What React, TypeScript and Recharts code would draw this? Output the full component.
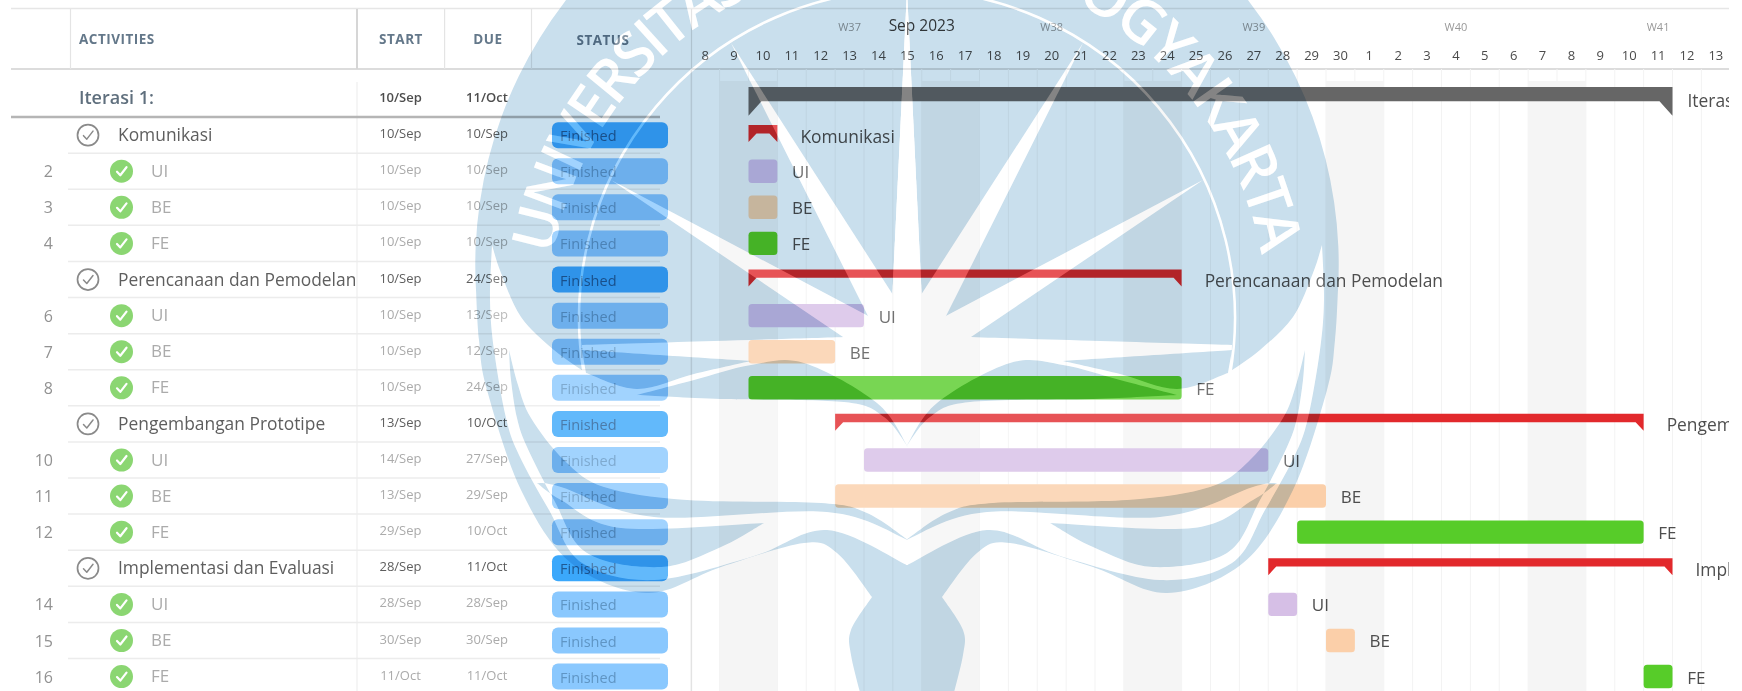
import React from 'react';
import { ComposedChart, Bar, XAxis, YAxis, CartesianGrid, ReferenceArea } from 'recharts';

const FONT = '"Open Sans", sans-serif';

// ---- table / chart data ----
const rowNames = ['Iterasi 1:', 'Komunikasi', 'UI', 'BE', 'FE', 'Perencanaan dan Pemodelan', 'UI', 'BE', 'FE', 'Pengembangan Prototipe', 'UI', 'BE', 'FE', 'Implementasi dan Evaluasi', 'UI', 'BE', 'FE'];
const rowNumbers = ['', '', '2', '3', '4', '', '6', '7', '8', '', '10', '11', '12', '', '14', '15', '16'];
const rowKinds = ['group', 'summary', 'task', 'task', 'task', 'summary', 'task', 'task', 'task', 'summary', 'task', 'task', 'task', 'summary', 'task', 'task', 'task'];
const startDates = ['10/Sep', '10/Sep', '10/Sep', '10/Sep', '10/Sep', '10/Sep', '10/Sep', '10/Sep', '10/Sep', '13/Sep', '14/Sep', '13/Sep', '29/Sep', '28/Sep', '28/Sep', '30/Sep', '11/Oct'];
const dueDates = ['11/Oct', '10/Sep', '10/Sep', '10/Sep', '10/Sep', '24/Sep', '13/Sep', '12/Sep', '24/Sep', '10/Oct', '27/Sep', '29/Sep', '10/Oct', '11/Oct', '28/Sep', '30/Sep', '11/Oct'];
const taskColors: Record<string, string> = { UI: '#d6bfe6', BE: '#fbcfa9', FE: '#57cc29' };

const dayLabels = ['8', '9', '10', '11', '12', '13', '14', '15', '16', '17', '18', '19', '20', '21', '22', '23', '24', '25', '26', '27', '28', '29', '30', '1', '2', '3', '4', '5', '6', '7', '8', '9', '10', '11', '12', '13'];
const weekLabels: Record<number, string> = { 5: 'W37', 12: 'W38', 19: 'W39', 26: 'W40', 33: 'W41' };
const monthLabelDay = 7;
const monthLabel = 'Sep 2023';
const weekendDays = [1, 2, 8, 9, 15, 16, 22, 23, 29, 30];

const dayIndex = (s: string) => {
  const [d, m] = s.split('/');
  return m === 'Sep' ? Number(d) - 8 : Number(d) + 22;
};

const rows = rowNames.map((name, i) => ({
  id: i,
  name,
  num: rowNumbers[i],
  kind: rowKinds[i],
  start: startDates[i],
  due: dueDates[i],
  range: [dayIndex(startDates[i]), dayIndex(dueDates[i]) + 1],
}));

const dayTicks = dayLabels.map((_, i) => i + 0.5);
const dayEdges = dayLabels.map((_, i) => i);

// ---- custom renderers ----
const DayTick = (p: any) => {
  const idx = Math.floor(p.payload.value);
  const week = weekLabels[idx];
  return (
    <g fontFamily={FONT}>
      <text x={p.x} y={55} textAnchor="middle" dominantBaseline="central" fontSize={13} fill="#4b4b4b">{dayLabels[idx]}</text>
      {week && <text x={p.x} y={26.7} textAnchor="middle" dominantBaseline="central" fontSize={11} fill="#999">{week}</text>}
      {idx === monthLabelDay && <text x={p.x + 14.4} y={25} textAnchor="middle" dominantBaseline="central" fontSize={15.5} fill="#3c3c3c">{monthLabel}</text>}
    </g>
  );
};

const Check = ({ cx, cy, color, w }: any) => (
  <polyline points={`${cx - 4.5},${cy + 0.5} ${cx - 1.2},${cy + 4} ${cx + 5},${cy - 4}`} fill="none" stroke={color} strokeWidth={w} strokeLinecap="round" strokeLinejoin="round" />
);

const RowTick = (p: any) => {
  const r = rows[p.payload.value];
  const y = p.y;
  if (!r) return null;
  if (r.kind === 'group') {
    return (
      <g fontFamily={FONT}>
        <text x={79} y={y - 2.5} dominantBaseline="central" fontSize={18} fontWeight={600} fill="#5f6f7d">{r.name}</text>
        <text x={400.5} y={y - 2} textAnchor="middle" dominantBaseline="central" fontSize={13} fontWeight={600} fill="#4d4d4d">{r.start}</text>
        <text x={487} y={y - 2} textAnchor="middle" dominantBaseline="central" fontSize={13} fontWeight={600} fill="#4d4d4d">{r.due}</text>
        <line x1={11} x2={660} y1={y + 18} y2={y + 18} stroke="#b5b5b5" strokeWidth={2.5} />
      </g>
    );
  }
  const summary = r.kind === 'summary';
  const dateFill = summary ? '#5d5d5d' : '#ababab';
  const pill = summary ? '#3ba8fb' : '#8ac8fe';
  return (
    <g fontFamily={FONT}>
      <line x1={68} x2={660} y1={y + 18} y2={y + 18} stroke="#ececec" strokeWidth={1.5} />
      {r.num && <text x={53} y={y} textAnchor="end" dominantBaseline="central" fontSize={16} fill="#929292">{r.num}</text>}
      {summary ? (
        <g>
          <circle cx={88} cy={y} r={10.5} fill="none" stroke="#8a8a8a" strokeWidth={1.7} />
          <Check cx={88} cy={y} color="#8a8a8a" w={1.5} />
          <text x={118} y={y - 1} dominantBaseline="central" fontSize={17.4} fill="#5e5e5e">{r.name}</text>
        </g>
      ) : (
        <g>
          <circle cx={121.5} cy={y} r={11.5} fill="#8bd672" />
          <Check cx={121.5} cy={y} color="#ffffff" w={2.2} />
          <text x={151} y={y - 1} dominantBaseline="central" fontSize={17} fill="#ababab">{r.name}</text>
        </g>
      )}
      <text x={400.5} y={y - 2} textAnchor="middle" dominantBaseline="central" fontSize={13} fill={dateFill}>{r.start}</text>
      <text x={487} y={y - 2} textAnchor="middle" dominantBaseline="central" fontSize={13} fill={dateFill}>{r.due}</text>
      <rect x={552} y={y - 13} width={116} height={26} rx={6} fill={pill} />
      <text x={560} y={y + 0.5} dominantBaseline="central" fontSize={14.5} fill={summary ? '#1f5a94' : '#5f95c4'}>Finished</text>
    </g>
  );
};

const BarShape = (p: any) => {
  const r = p.payload;
  const { x, width } = p;
  const cy = p.y + p.height / 2;
  const x2 = x + width;
  const label = (lx: number, ly: number, size: number, fill: string) => (
    <text x={lx} y={ly} dominantBaseline="central" fontFamily={FONT} fontSize={size} fill={fill} clipPath="url(#plotClip)">{r.name.replace(':', '')}</text>
  );
  if (r.kind === 'group') {
    const top = cy - 12;
    return (
      <g>
        <path d={`M${x} ${top}H${x2}V${top + 28.7}L${x2 - 13} ${top + 14.3}H${x + 13}L${x} ${top + 28.7}Z`} fill="#666666" />
        {label(x2 + 15, cy + 1, 17.4, '#4e4e4e')}
      </g>
    );
  }
  if (r.kind === 'summary') {
    const top = cy - 10;
    return (
      <g>
        <path d={`M${x} ${top}H${x2}V${top + 17}L${x2 - 8} ${top + 8.3}H${x + 8}L${x} ${top + 17}Z`} fill="#e2292c" />
        {label(x2 + 23, cy + 0.5, 17.4, '#4e4e4e')}
      </g>
    );
  }
  return (
    <g>
      <rect x={x} y={cy - 11.7} width={width} height={23.4} rx={3.5} fill={taskColors[r.name]} />
      {label(x2 + 14.7, cy + 0.5, 17, '#4e4e4e')}
    </g>
  );
};

// ---- watermark helpers (backdrop artwork, not data) ----
type P = [number, number];
const curve = (pts: P[], move: boolean) => {
  let d = `${move ? 'M' : 'L'}${pts[0][0]} ${pts[0][1]}`;
  for (let i = 0; i < pts.length - 1; i++) {
    const a = pts[i - 1] || pts[i];
    const b = pts[i];
    const c = pts[i + 1];
    const e = pts[i + 2] || c;
    d += `C${b[0] + (c[0] - a[0]) / 6} ${b[1] + (c[1] - a[1]) / 6} ${c[0] - (e[0] - b[0]) / 6} ${c[1] - (e[1] - b[1]) / 6} ${c[0]} ${c[1]}`;
  }
  return d;
};
const shape = (...segs: P[][]) => segs.map((s, i) => curve(s, i === 0)).join('') + 'Z';

const silhouette =
  'M906 -167A432 432 0 0 1 1338 290' +
  curve([[1338, 290], [1335, 340], [1327, 390], [1293, 490], [1243, 563], [1167, 593], [1093, 567], [1010, 543], [977, 553], [942, 597]], false) +
  curve([[942, 597], [963, 630], [963, 655], [952, 700]], false) + 'L906 700Z';
const whiteInside = shape(
  [[906, 297], [920, 297]],
  [[920, 297], [943, 318]],
  [[943, 318], [967, 337]],
  [[967, 337], [1100, 341], [1232, 345]],
  [[1232, 345], [1231, 373]],
  [[1228, 373], [1260, 350], [1293, 317], [1313, 273], [1322, 245]],
  [[1322, 245], [1324, 300], [1320, 350], [1308, 418], [1295, 455], [1265, 510], [1232, 563], [1160, 580], [1060, 556], [987, 530], [907, 565]],
  [[907, 565], [906, 565]],
);
const wedge = shape(
  [[1063, 361], [1232, 350]],
  [[1232, 350], [1228, 373]],
  [[1228, 373], [1177, 389], [1120, 374], [1063, 361]],
);
const wingA = shape(
  [[906, 447], [937, 403], [1010, 363], [1063, 365], [1120, 380], [1177, 395]],
  [[1177, 395], [1093, 399], [970, 402], [930, 417], [906, 447]],
);
const wingB = shape(
  [[1305, 350], [1296, 385], [1283, 418], [1250, 460], [1210, 487], [1127, 500], [993, 503], [947, 513], [906, 540]],
  [[906, 540], [987, 512], [1160, 517], [1253, 487], [1277, 483]],
  [[1277, 483], [1253, 500], [1193, 528], [1050, 523]],
  [[1050, 523], [1093, 547], [1153, 567], [1227, 553], [1260, 500], [1287, 447], [1297, 418], [1303, 380], [1305, 350]],
);
const rays: P[][] = [
  [[907, -10], [892, 302], [922, 302]],
  [[1083, 43], [919, 298], [944, 320]],
  [[1203, 180], [942, 318], [968, 339]],
];

const Mirror = ({ d, fill }: { d: string; fill: string }) => (
  <>
    <path d={d} fill={fill} />
    <path d={d} fill={fill} transform="translate(1814 0) scale(-1 1)" />
  </>
);

const LogoLayers = ({ base, ink }: { base: string; ink: string }) => (
  <>
    <Mirror d={silhouette} fill={base} />
    {rays.map((r, i) => (
      <Mirror key={i} d={`M${r[0][0]} ${r[0][1]}L${r[1][0]} ${r[1][1]}L${r[2][0]} ${r[2][1]}Z`} fill={ink} />
    ))}
    <path d="M584 375A328 328 0 1 1 1230 375" fill="none" stroke={ink} strokeWidth={2.5} />
    <Mirror d={whiteInside} fill={ink} />
    <Mirror d={wedge} fill={base} />
    <Mirror d={wingA} fill={base} />
    <Mirror d={wingB} fill={base} />
    <text fontFamily={FONT} fontWeight={600} fontSize={60} fill={ink}>
      <textPath href="#logoArc" startOffset="50%" textAnchor="middle" textLength={1000} lengthAdjust="spacing">UNIVERSITAS ATMA JAYA YOGYAKARTA</textPath>
    </text>
  </>
);

const Watermark = () => (
  <>
    <svg width={1742} height={691} style={{ position: 'absolute', left: 0, top: 0, mixBlendMode: 'multiply', pointerEvents: 'none' }}>
      <defs>
        <path id="logoArc" d="M547 320A360 360 0 0 1 1267 320" />
      </defs>
      <LogoLayers base="#c9dfed" ink="#ffffff" />
    </svg>
    <svg width={1742} height={691} style={{ position: 'absolute', left: 0, top: 0, pointerEvents: 'none' }}>
      <defs>
        <mask id="logoInk" maskUnits="userSpaceOnUse" x={0} y={0} width={1742} height={691}>
          <rect x={0} y={0} width={1742} height={691} fill="#000000" />
          <LogoLayers base="#000000" ink="#ffffff" />
        </mask>
      </defs>
      <rect x={0} y={0} width={1742} height={691} fill="#ffffff" fillOpacity={0.2} mask="url(#logoInk)" />
    </svg>
  </>
);

const TableHeader = () => (
  <svg width={1742} height={691} style={{ position: 'absolute', left: 0, top: 0 }}>
    <g fontFamily={FONT} fontWeight={700} fontSize={13.5} fill="#64788a" letterSpacing={0.5}>
      <text x={79} y={38.5} dominantBaseline="central">ACTIVITIES</text>
      <text x={401} y={38.5} textAnchor="middle" dominantBaseline="central">START</text>
      <text x={488} y={38.5} textAnchor="middle" dominantBaseline="central">DUE</text>
      <text x={603} y={40} textAnchor="middle" dominantBaseline="central">STATUS</text>
    </g>
    <line x1={11} x2={1729} y1={8.5} y2={8.5} stroke="#e6e6e6" strokeWidth={1.5} />
    <line x1={11} x2={1729} y1={69} y2={69} stroke="#dcdcdc" strokeWidth={2} />
    <line x1={70.5} x2={70.5} y1={9} y2={69} stroke="#e4e4e4" strokeWidth={1.2} />
    <line x1={357} x2={357} y1={9} y2={69} stroke="#d6d6d6" strokeWidth={2} />
    <line x1={444.6} x2={444.6} y1={9} y2={69} stroke="#e4e4e4" strokeWidth={1.2} />
    <line x1={531.5} x2={531.5} y1={9} y2={69} stroke="#e4e4e4" strokeWidth={1.2} />
    <line x1={357} x2={357} y1={82} y2={691} stroke="#efefef" strokeWidth={1.2} />
    <line x1={691.5} x2={691.5} y1={9} y2={691} stroke="#dedede" strokeWidth={1.2} />
  </svg>
);

export default function App() {
  return (
    <div style={{ position: 'fixed', left: 0, top: 0, width: 1742, height: 691, overflow: 'hidden', background: '#ffffff', isolation: 'isolate' }}>
      <TableHeader />
      <div style={{ position: 'absolute', left: 0, top: 0 }}>
        <ComposedChart width={1742} height={700} data={rows} layout="vertical" margin={{ top: 0, right: 11.75, bottom: 5.35, left: 0 }} barCategoryGap={0}>
          <defs>
            <clipPath id="plotClip">
              <rect x={691} y={69} width={1038} height={631} />
            </clipPath>
          </defs>
          {weekendDays.map((d) => (
            <ReferenceArea key={d} x1={d} x2={d + 1} fill="#f5f5f5" fillOpacity={1} stroke="none" ifOverflow="visible" />
          ))}
          <CartesianGrid horizontal={false} vertical verticalValues={dayEdges} stroke="#f3f3f3" strokeWidth={1} />
          <XAxis type="number" orientation="top" domain={[0, 36]} ticks={dayTicks} height={69} axisLine={false} tickLine={false} interval={0} tick={DayTick} />
          <YAxis type="category" dataKey="id" width={690.75} axisLine={false} tickLine={false} interval={0} padding={{ top: 12, bottom: 0 }} tick={RowTick} />
          <Bar dataKey="range" shape={BarShape} barSize={24} isAnimationActive={false} />
        </ComposedChart>
      </div>
      <Watermark />
    </div>
  );
}
